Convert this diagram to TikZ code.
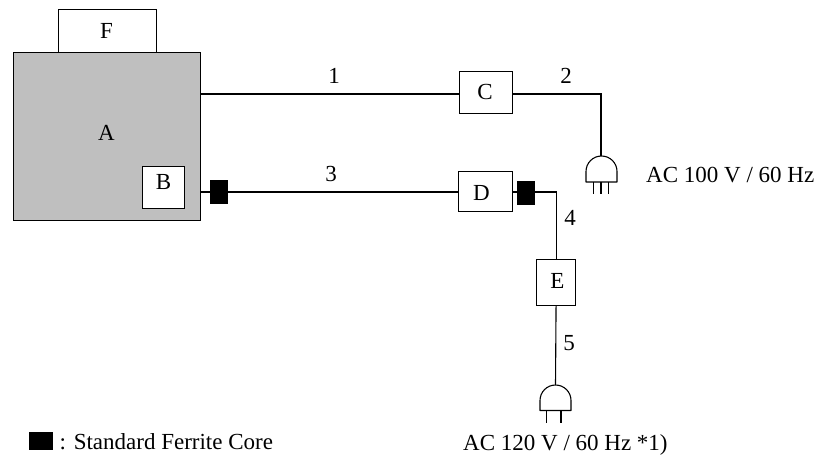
\documentclass[tikz,border=0pt]{standalone}
\usepackage{fontspec}
\setmainfont{Liberation Serif}
\tikzset{
  box/.style={draw=black,line width=1.1pt,fill=white,inner sep=0pt,anchor=north west},
  wire/.style={draw=black,line width=1.1pt},
  ferrite/.style={fill=black,draw=none,inner sep=0pt,minimum width=18pt,minimum height=24pt},
  lbl/.style={font=\fontsize{23pt}{26pt}\selectfont,inner sep=0pt,text=black},
  plugbody/.style={line width=1.1pt,draw=black,fill=white,line join=round},
  prong/.style={line width=1.1pt,draw=black}
}
\begin{document}
\begin{tikzpicture}[x=1pt,y=-1pt]
\useasboundingbox (0,0) rectangle (818,460);
% boxes
\node[box,fill=black!25,minimum width=187pt,minimum height=168pt] (A) at (13,52) {};
\node[lbl] (Alabel) at (106.5,133) {A};
\node[box,minimum width=98pt,minimum height=43pt] (F) at (58,9) {};
\node[lbl] at (106.5,30.5) {F};
\node[box,minimum width=42pt,minimum height=42pt] (B) at (142,166) {};
\node[lbl] at (163.5,182.5) {B};
\node[box,minimum width=53pt,minimum height=42pt] (C) at (459,71) {};
\node[lbl] at (485,92) {C};
\node[box,minimum width=54pt,minimum height=40pt] (D) at (458,171) {};
\node[lbl] at (481.5,192.5) {D};
\node[box,minimum width=39pt,minimum height=46pt] (E) at (536,259) {};
\node[lbl] at (557.5,281) {E};
% plug anchors
\coordinate (P1) at (601,156);
\coordinate (P2) at (555.5,385);
\coordinate (A1) at (200,94);
\coordinate (A3) at (200,192);
% wires
\draw[wire] (A1) -- (C.west |- A1);
\draw[wire] (C.east |- A1) -| (P1);
\draw[wire] (A3) -- (D.west |- A3);
\draw[wire] (D.east |- A3) -| (E.north);
\draw[wire] (E.south) -- (P2);
% ferrites
\node[ferrite] (FC1) at (219,192) {};
\node[ferrite] (FC2) at (525.5,193) {};
% plugs
\draw[plugbody] (586,182) -- (586,171.5) arc[start angle=180,end angle=0,x radius=15.5pt,y radius=15.5pt] -- (617,182) -- cycle;
\draw[prong] (593.5,182) -- (593.5,194) (601,182) -- (601,194) (608.5,182) -- (608.5,194);
\draw[plugbody] (540,410.5) -- (540,400.5) arc[start angle=180,end angle=0,x radius=15.5pt,y radius=15.5pt] -- (571,410.5) -- cycle;
\draw[prong] (546.5,410.5) -- (546.5,423) (561,410.5) -- (561,423);
% labels
\node[lbl] at (334,76) {1};
\node[lbl] at (566,76) {2};
\node[lbl] at (331,174) {3};
\node[lbl] at (570,218) {4};
\node[lbl] at (569,343) {5};
\node[lbl,anchor=west] at (646,175) {AC 100 V / 60 Hz};
\node[lbl,anchor=west] at (463,445) {AC 120 V / 60 Hz *1)};
\node[fill=black,inner sep=0pt,minimum width=24pt,minimum height=18pt] (legend) at (41,441) {};
\node[lbl,anchor=west] at (59.5,441.5) {: Standard Ferrite Core};
\end{tikzpicture}
\end{document}
